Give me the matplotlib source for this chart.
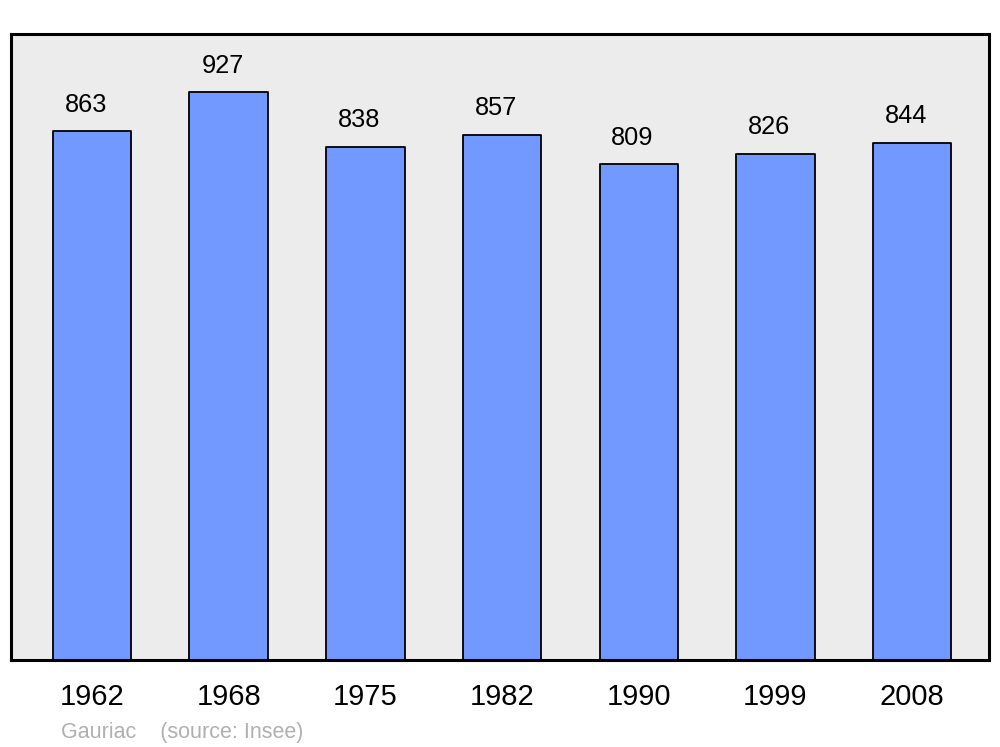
import matplotlib
matplotlib.use("Agg")
import matplotlib.pyplot as plt

# Data
years = ["1962", "1968", "1975", "1982", "1990", "1999", "2008"]
population = [863, 927, 838, 857, 809, 826, 844]

plt.rcParams['font.family'] = ['Liberation Sans', 'DejaVu Sans']

fig = plt.figure(figsize=(10, 7.47), dpi=100)
ax = fig.add_axes([0.011, 0.1165, 0.978, 0.838])
ax.set_facecolor("#ececec")

x = range(len(years))
bars = ax.bar(x, population, width=0.575, color="#7299ff", edgecolor="black",
              linewidth=1.3, zorder=2)
for b in bars:
    b.set_joinstyle("round")

for xi, v in zip(x, population):
    ax.annotate(str(v), (xi, v), xytext=(-4.5, 10.5), textcoords="offset points",
                ha="center", va="bottom", fontsize=18.3)

ax.set_xlim(-0.593, 6.562)
ax.set_ylim(0, 1022)
ax.set_xticks(list(x))
ax.set_xticklabels(years, fontsize=21)
ax.tick_params(axis="x", length=0, pad=16.5)
ax.set_yticks([])
for s in ax.spines.values():
    s.set_linewidth(2.2)
    s.set_joinstyle("round")

fig.text(0.061, 0.012, "Gauriac    (source: Insee)", fontsize=15.5, color="#b0b0b0")

plt.savefig("out.png", dpi=100)
